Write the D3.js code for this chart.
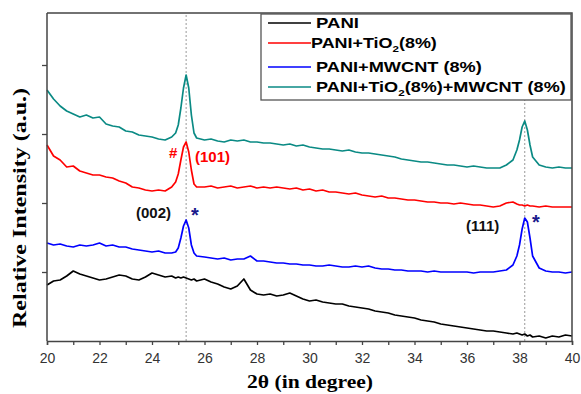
<!DOCTYPE html>
<html>
<head>
<meta charset="utf-8">
<script src="https://cdn.jsdelivr.net/npm/d3@7/dist/d3.min.js"></script>
<style>
    body { margin: 0; background: #fff; }
    svg { display: block; }
</style>
</head>
<body>
<div id="js-chart"></div>
<script>
// 2θ 取样点（峰附近加密）
var twoTheta = [
    20, 20.25, 20.5, 20.75, 21, 21.25, 21.5, 21.75, 22, 22.25, 22.5, 22.75,
    23, 23.25, 23.5, 23.75, 24, 24.25, 24.5, 24.75,
    24.9, 25.0, 25.1, 25.2, 25.3, 25.4, 25.5, 25.6, 25.7,
    26, 26.25, 26.5, 26.75, 27, 27.25, 27.5, 27.75, 28, 28.25, 28.5, 28.75,
    29, 29.25, 29.5, 29.75, 30, 30.25, 30.5, 30.75, 31, 31.25, 31.5, 31.75,
    32, 32.25, 32.5, 32.75, 33, 33.25, 33.5, 33.75, 34, 34.25, 34.5, 34.75,
    35, 35.25, 35.5, 35.75, 36, 36.25, 36.5, 36.75, 37, 37.25, 37.5, 37.75,
    37.9, 38.0, 38.1, 38.2, 38.3, 38.4, 38.5,
    38.75, 39, 39.25, 39.5, 39.75, 40
];

// 各样品强度 (a.u.)
var pani = [
    56, 60, 61, 65, 70, 67, 65, 63, 61, 62, 64, 66,
    65, 62, 61, 64, 68, 66, 64, 65,
    63, 64, 63, 64, 63, 62, 61, 62, 60,
    62, 59, 57, 54, 52, 55, 62, 51, 47, 46, 47, 45,
    46, 48, 45, 42, 40, 41, 39, 38, 37, 37, 35, 34,
    33, 32, 30, 29, 28, 26, 25, 24, 23, 21, 20, 19,
    17, 16, 15, 14, 13, 12, 11, 10, 10, 9, 8, 7,
    8, 7, 6, 7, 5, 6, 4,
    5, 3, 5, 4, 6, 5
];
var paniTiO2 = [
    196, 185, 181, 174, 175, 170, 168, 166, 166, 164, 163, 160,
    158, 154, 153, 151, 150, 151, 150, 154,
    159, 167, 181, 194, 199, 189, 171, 157, 154,
    154, 155, 153, 154, 155, 153, 154, 155, 153, 154, 153, 154,
    153, 152, 153, 151, 152, 150, 151, 149, 149, 148, 147, 148,
    146, 145, 144, 145, 143, 143, 142, 141, 141, 140, 139, 139,
    138, 138, 137, 138, 137, 136, 136, 135, 134, 135, 138, 139,
    137, 136, 136, 135, 136, 135, 135,
    134, 135, 134, 134, 134, 134
];
var paniMwcnt = [
    98, 96, 97, 95, 94, 96, 95, 96, 98, 95, 96, 94,
    94, 92, 91, 90, 89, 90, 88, 88,
    89, 93, 103, 115, 121, 113, 96, 88, 85,
    84, 83, 82, 83, 81, 82, 82, 85, 80, 80, 79, 78,
    78, 77, 77, 76, 76, 75, 75, 76, 75, 74, 74, 75,
    74, 75, 73, 72, 72, 71, 71, 70, 70, 70, 69, 70,
    69, 69, 69, 69, 69, 68, 69, 69, 69, 70, 71, 76,
    85, 96, 112, 123, 119, 103, 85,
    73, 70, 69, 69, 68, 69
];
var paniTiO2Mwcnt = [
    251, 242, 235, 230, 227, 224, 226, 223, 224, 217, 215, 214,
    210, 209, 206, 205, 204, 202, 201, 204,
    208, 216, 233, 253, 266, 253, 226, 208, 203,
    201, 202, 200, 199, 201, 200, 201, 199, 199, 198, 198, 197,
    196, 197, 195, 196, 194, 193, 192, 192, 191, 190, 191, 189,
    188, 188, 187, 186, 185, 184, 182, 181, 180, 179, 179, 178,
    177, 176, 176, 175, 174, 175, 174, 173, 173, 173, 176, 181,
    191, 201, 214, 220, 211, 196, 184,
    176, 174, 173, 174, 173, 173
];

var seriesNames = ["PANI", "PANI+TiO2(8%)", "PANI+MWCNT (8%)", "PANI+TiO2(8%)+MWCNT (8%)"];
var seriesColors = ["#000000", "#ff0000", "#0000ff", "#0a8a84"];
var xTicks = [20, 22, 24, 26, 28, 30, 32, 34, 36, 38, 40];
var yTicks = [69, 138, 207, 276];
var peakLines = [25.3, 38.2];

(function () {
    "use strict";
    var width = 581, height = 394;
    var svg = d3.select("#js-chart").append("svg")
        .attr("width", width)
        .attr("height", height);

    var x = d3.scaleLinear().domain([20, 40]).range([47, 572]);
    var y = d3.scaleLinear().domain([0, 328]).range([341, 13]);

    var sans = "'Liberation Sans', Arial, sans-serif";
    var serif = "'Liberation Serif', 'Times New Roman', serif";

    // 参考虚线
    svg.selectAll(".peak").data(peakLines).enter().append("line")
        .attr("x1", function (d) { return x(d); })
        .attr("x2", function (d) { return x(d); })
        .attr("y1", y(0)).attr("y2", y(328))
        .attr("stroke", "#999").attr("stroke-width", 1)
        .attr("stroke-dasharray", "2,2");

    // 曲线
    var line = d3.line()
        .x(function (d, i) { return x(twoTheta[i]); })
        .y(function (d) { return y(d); });

    var allSeries = [pani, paniTiO2, paniMwcnt, paniTiO2Mwcnt];
    allSeries.forEach(function (s, i) {
        svg.append("path")
            .datum(s)
            .attr("d", line)
            .attr("fill", "none")
            .attr("stroke", seriesColors[i])
            .attr("stroke-width", 1.7)
            .attr("stroke-linejoin", "round");
    });

    // 坐标轴
    var xAxis = svg.append("g")
        .attr("transform", "translate(0," + y(0) + ")")
        .call(d3.axisBottom(x).tickValues(d3.range(20, 41, 1)).tickSize(4)
            .tickFormat(function (d) { return xTicks.indexOf(d) >= 0 ? d : ""; }));
    xAxis.selectAll("text").attr("font-family", sans).attr("font-size", 14)
        .attr("fill", "#333").attr("dy", "1.05em");
    xAxis.selectAll("line").attr("stroke", "#444").attr("stroke-width", 1.3);
    xAxis.select(".domain").attr("stroke", "#444").attr("stroke-width", 1.5);

    var yAxis = svg.append("g")
        .attr("transform", "translate(" + x(20) + ",0)")
        .call(d3.axisLeft(y).tickValues(yTicks).tickSize(5).tickFormat(""));
    yAxis.selectAll("line").attr("stroke", "#444").attr("stroke-width", 1.3);
    yAxis.select(".domain").attr("stroke", "#444").attr("stroke-width", 1.5)
        .attr("d", "M0," + y(0) + "V" + y(328));

    // 上、右边框
    svg.append("path")
        .attr("d", "M" + x(20) + "," + y(328) + "H" + x(40) + "V" + y(0))
        .attr("fill", "none").attr("stroke", "#444").attr("stroke-width", 1.5);

    // 轴标题
    svg.append("text")
        .attr("transform", "translate(26,208) rotate(-90)")
        .attr("text-anchor", "middle")
        .attr("font-family", serif).attr("font-weight", "bold").attr("font-size", 19)
        .attr("textLength", 240).attr("lengthAdjust", "spacingAndGlyphs")
        .text("Relative Intensity (a.u.)");

    svg.append("text")
        .attr("x", 310).attr("y", 388)
        .attr("text-anchor", "middle")
        .attr("font-family", serif).attr("font-weight", "bold").attr("font-size", 19)
        .attr("textLength", 126).attr("lengthAdjust", "spacingAndGlyphs")
        .text("2\u03b8 (in degree)");

    // 峰标注
    var notes = [
        {t: "#", x: 169, y: 158, c: "#ff0000"},
        {t: "(101)", x: 195, y: 162, c: "#ff0000"},
        {t: "(002)", x: 136, y: 218, c: "#111"},
        {t: "*", x: 191, y: 222, c: "#1a1a8c", s: 20},
        {t: "(111)", x: 466, y: 231, c: "#111"},
        {t: "*", x: 532, y: 229, c: "#1a1a8c", s: 20}
    ];
    svg.selectAll(".note").data(notes).enter().append("text")
        .attr("x", function (d) { return d.x; })
        .attr("y", function (d) { return d.y; })
        .attr("fill", function (d) { return d.c; })
        .attr("font-family", sans).attr("font-weight", "bold")
        .attr("font-size", function (d) { return d.s || 15; })
        .text(function (d) { return d.t; });

    // 图例
    var lg = svg.append("g");
    lg.append("rect")
        .attr("x", 261).attr("y", 14).attr("width", 310).attr("height", 86)
        .attr("fill", "#fff").attr("stroke", "#555").attr("stroke-width", 1.3);
    var rowY = [23, 43, 67, 87];
    var textX = [316, 311, 316, 316];
    var textW = [43, 126, 166, 250];
    seriesNames.forEach(function (name, i) {
        lg.append("line")
            .attr("x1", 268).attr("x2", 311)
            .attr("y1", rowY[i]).attr("y2", rowY[i])
            .attr("stroke", seriesColors[i]).attr("stroke-width", 1.7);
        var t = lg.append("text")
            .attr("x", 0).attr("y", 0)
            .attr("font-family", sans).attr("font-weight", "bold").attr("font-size", 14);
        var parts = name.split("TiO2");
        t.append("tspan").text(parts[0]);
        if (parts.length > 1) {
            t.append("tspan").text("TiO");
            t.append("tspan").attr("dy", 4).attr("font-size", 9).text("2");
            t.append("tspan").attr("dy", -4).text(parts[1]);
        }
        // 横向拉伸到原图宽度
        var w = t.node().getComputedTextLength();
        t.attr("transform", "translate(" + textX[i] + "," + (rowY[i] + 5) + ") scale(" + (textW[i] / w) + ",1)");
    });
})();
</script>
</body>
</html>
